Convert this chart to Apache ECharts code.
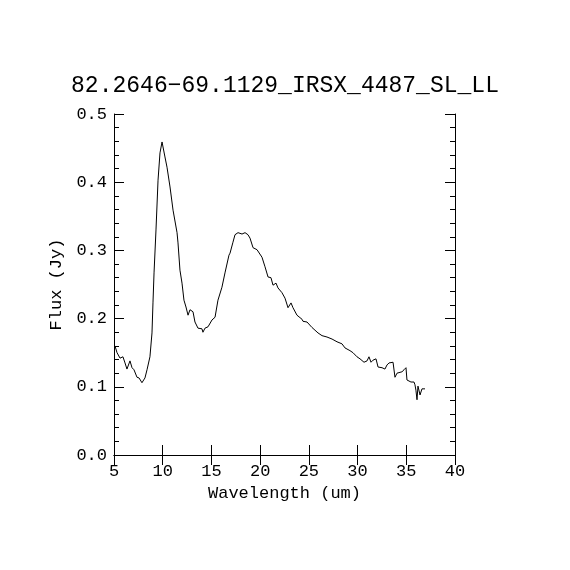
<!DOCTYPE html>
<html>
<head>
<meta charset="utf-8">
<script src="https://cdn.jsdelivr.net/npm/echarts@6/dist/echarts.min.js"></script>
<style>
  html, body { margin: 0; padding: 0; background: #fff; }
  #main { width: 570px; height: 570px; }
</style>
</head>
<body>
<div id="main"></div>
<script>
// spectrum
const wavelength = [
  5.10, 5.31, 5.62, 5.92, 6.13, 6.33, 6.64, 6.85, 7.05, 7.36,
  7.57, 7.87, 7.98, 8.18, 8.39, 8.69, 8.90, 9.00, 9.11, 9.31,
  9.52, 9.72, 9.93, 10.03, 10.23, 10.44, 10.75, 11.06, 11.47, 11.57,
  11.77, 11.98, 12.18, 12.39, 12.60, 12.80, 13.11, 13.31, 13.62, 14.03,
  14.13, 14.34, 14.65, 14.85, 15.06, 15.37, 15.67, 16.08, 16.39, 16.80,
  16.91, 17.21, 17.42, 17.73, 18.14, 18.45, 18.75, 18.96, 19.27, 19.37,
  19.68, 20.19, 20.50, 20.81, 21.11, 21.32, 21.63, 21.83, 22.24, 22.55,
  22.86, 23.17, 23.37, 23.78, 24.30, 24.40, 24.81, 25.32, 25.63, 25.94,
  26.35, 26.86, 27.38, 27.89, 28.40, 28.71, 29.22, 29.53, 29.94, 30.25,
  30.66, 30.97, 31.17, 31.38, 31.58, 31.89, 32.10, 32.51, 32.81, 33.02,
  33.23, 33.64, 33.84, 34.05, 34.25, 34.56, 34.77, 34.97, 35.07, 35.48,
  35.79, 35.89, 35.99, 36.10, 36.20, 36.41, 36.61, 36.92
];
const flux = [
  0.160, 0.150, 0.142, 0.144, 0.135, 0.126, 0.138, 0.128, 0.125, 0.114,
  0.113, 0.106, 0.105, 0.113, 0.125, 0.144, 0.179, 0.223, 0.267, 0.330,
  0.403, 0.443, 0.459, 0.457, 0.437, 0.422, 0.393, 0.359, 0.326, 0.311,
  0.271, 0.252, 0.227, 0.217, 0.205, 0.213, 0.210, 0.195, 0.186, 0.185,
  0.180, 0.186, 0.188, 0.188, 0.198, 0.202, 0.227, 0.246, 0.267, 0.293,
  0.296, 0.312, 0.323, 0.326, 0.324, 0.326, 0.323, 0.318, 0.304, 0.306,
  0.301, 0.290, 0.276, 0.261, 0.260, 0.249, 0.252, 0.245, 0.238, 0.230,
  0.216, 0.223, 0.216, 0.205, 0.199, 0.196, 0.195, 0.187, 0.183, 0.179,
  0.175, 0.173, 0.170, 0.166, 0.163, 0.157, 0.153, 0.150, 0.144, 0.141,
  0.136, 0.138, 0.144, 0.136, 0.139, 0.141, 0.129, 0.128, 0.126, 0.132,
  0.135, 0.136, 0.114, 0.120, 0.120, 0.122, 0.125, 0.128, 0.110, 0.107,
  0.107, 0.103, 0.095, 0.081, 0.101, 0.088, 0.097, 0.097
];

const titleText = '82.2646\u221269.1129_IRSX_4487_SL_LL';
const xName = 'Wavelength (um)';
const yName = 'Flux (Jy)';

const FONT = 'Liberation Mono';

// axis box: bottom/left with labels, top/right only ticks
const xBase = {
  type: 'value', min: 5, max: 40, interval: 5,
  axisLine: { show: true, lineStyle: { color: '#000', width: 1 } },
  axisTick: { show: true, inside: true, length: 10, lineStyle: { color: '#000' } },
  splitLine: { show: false }
};
const yBase = {
  type: 'value', min: 0, max: 0.5, interval: 0.1,
  axisLine: { show: true, lineStyle: { color: '#000', width: 1 } },
  axisTick: { show: true, inside: true, length: 10, lineStyle: { color: '#000' } },
  minorTick: { show: true, splitNumber: 5, length: 5, lineStyle: { color: '#000' } },
  splitLine: { show: false }
};

const chart = echarts.init(document.getElementById('main'));
chart.setOption({
  animation: false,
  backgroundColor: '#fff',
  title: {
    text: titleText,
    left: 'center',
    top: 69,
    textStyle: { fontFamily: FONT, fontSize: 23, fontWeight: 'normal', color: '#000' }
  },
  grid: { left: 114, top: 114, right: 115, bottom: 115 },
  xAxis: [
    Object.assign({}, xBase, {
      position: 'bottom',
      name: xName, nameLocation: 'middle', nameGap: 28,
      nameTextStyle: { fontFamily: FONT, fontSize: 17, color: '#000' },
      axisLabel: { show: true, margin: 8, fontFamily: FONT, fontSize: 17, color: '#000' }
    }),
    Object.assign({}, xBase, { position: 'top', axisLabel: { show: false } })
  ],
  yAxis: [
    Object.assign({}, yBase, {
      position: 'left',
      name: yName, nameLocation: 'middle', nameGap: 43, nameRotate: 90,
      nameTextStyle: { fontFamily: FONT, fontSize: 17, color: '#000' },
      axisLabel: {
        show: true, margin: 7, fontFamily: FONT, fontSize: 17, color: '#000',
        formatter: v => v.toFixed(1)
      }
    }),
    Object.assign({}, yBase, { position: 'right', axisLabel: { show: false } })
  ],
  series: [{
    type: 'line',
    xAxisIndex: 0,
    yAxisIndex: 0,
    data: wavelength.map((w, i) => [w, flux[i]]),
    showSymbol: false,
    symbol: 'none',
    lineStyle: { color: '#000', width: 1 }
  }]
});
</script>
</body>
</html>
